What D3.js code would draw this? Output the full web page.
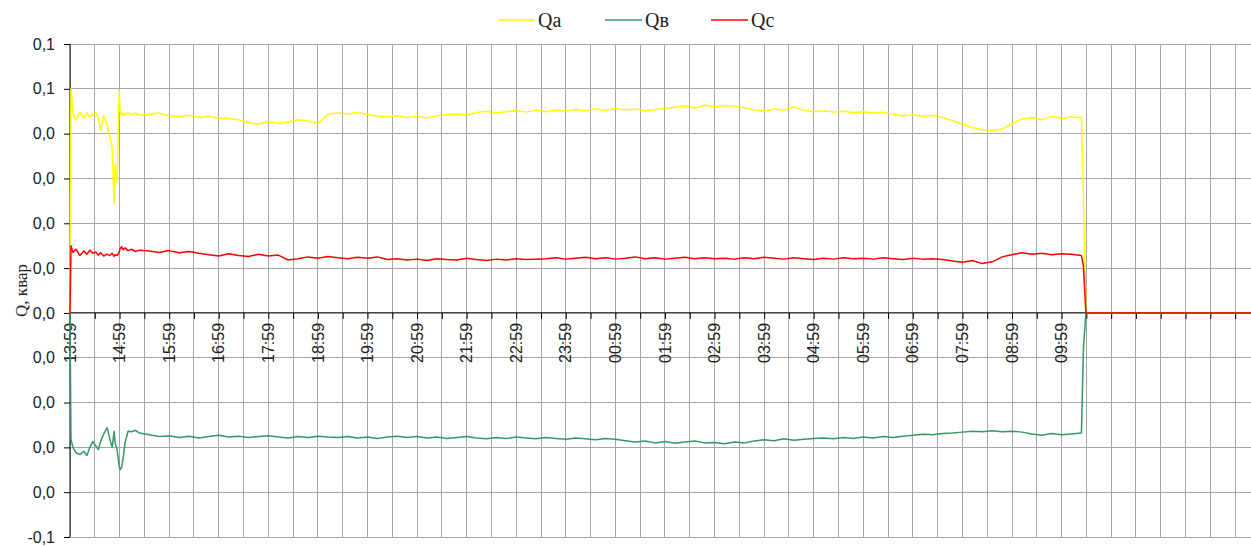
<!DOCTYPE html>
<html>
<head>
<meta charset="utf-8">
<script src="https://cdn.jsdelivr.net/npm/d3@7"></script>
<style>
  body { margin: 0; background: #fff; }
  svg { display: block; }
</style>
</head>
<body>
<div id="chart"></div>
<script>
// hours since 13:59
const timeH = [
  0, 0.02, 0.06, 0.12, 0.2, 0.28, 0.34, 0.4, 0.46, 0.52, 0.57, 0.62, 0.68, 0.75, 0.8, 0.85, 0.89, 0.91, 0.95, 0.99,
  1.01, 1.04, 1.07, 1.11, 1.17, 1.24, 1.32, 1.4,
  1.6, 1.8, 2.0, 2.2, 2.4, 2.6, 2.8, 3.0, 3.2, 3.4, 3.6, 3.8, 4.0, 4.2, 4.4, 4.6, 4.8, 5.0, 5.2, 5.4, 5.6, 5.8,
  6.0, 6.2, 6.4, 6.6, 6.8, 7.0, 7.2, 7.4, 7.6, 7.8, 8.0, 8.2, 8.4, 8.6, 8.8, 9.0, 9.2, 9.4, 9.6, 9.8,
  10.0, 10.2, 10.4, 10.6, 10.8, 11.0, 11.2, 11.4, 11.6, 11.8, 12.0, 12.2, 12.4, 12.6, 12.8, 13.0, 13.2, 13.4, 13.6, 13.8,
  14.0, 14.2, 14.4, 14.6, 14.8, 15.0, 15.2, 15.4, 15.6, 15.8, 16.0, 16.2, 16.4, 16.6, 16.8, 17.0, 17.2, 17.4, 17.6, 17.8,
  18.0, 18.2, 18.4, 18.6, 18.8, 19.0, 19.2, 19.4, 19.6, 19.8, 20.0, 20.2, 20.4,
  20.44, 20.49, 20.52, 23.85
];

const qa = [
  0, 0.0500, 0.0446, 0.0430, 0.0448, 0.0434, 0.0446, 0.0437, 0.0443, 0.0447, 0.0436, 0.0407, 0.0440, 0.0418, 0.0395, 0.0370, 0.0244, 0.0330, 0.0290, 0.0496,
  0.0452, 0.0441, 0.0446, 0.0440, 0.0447, 0.0443, 0.0446, 0.0441,
  0.0443, 0.0446, 0.0440, 0.0438, 0.0441, 0.0436, 0.0439, 0.0435, 0.0434, 0.0431, 0.0425, 0.0421, 0.0427, 0.0423, 0.0426,
  0.0431, 0.0428, 0.0422, 0.0443, 0.0446, 0.0444, 0.0447, 0.0443, 0.0439, 0.0437, 0.0440, 0.0436, 0.0438, 0.0435, 0.0440,
  0.0442, 0.0444, 0.0441, 0.0447, 0.0450, 0.0446, 0.0449, 0.0451, 0.0448, 0.0452, 0.0449, 0.0453, 0.0450,
  0.0454, 0.0451, 0.0455, 0.0452, 0.0456, 0.0453, 0.0455, 0.0451, 0.0454, 0.0456,
  0.0459, 0.0462, 0.0457, 0.0464, 0.0460, 0.0463, 0.0461, 0.0458, 0.0453, 0.0450, 0.0455, 0.0452, 0.0460,
  0.0452, 0.0449, 0.0451, 0.0448, 0.0450, 0.0447, 0.0449, 0.0446, 0.0448, 0.0443, 0.0440, 0.0442, 0.0439, 0.0441,
  0.0436, 0.0429, 0.0421, 0.0413, 0.0409, 0.0407, 0.0410, 0.0422, 0.0433, 0.0436, 0.0431, 0.0438, 0.0434, 0.0437, 0.0436,
  0.0262, 0, 0, 0
];

const qb = [
  0, -0.0282, -0.0300, -0.0312, -0.0316, -0.0309, -0.0318, -0.0300, -0.0287, -0.0296, -0.0305, -0.0286, -0.0270, -0.0256, -0.0280, -0.0300, -0.0264, -0.0290, -0.0305, -0.0340,
  -0.0350, -0.0345, -0.0325, -0.0290, -0.0264, -0.0265, -0.0262, -0.0268,
  -0.0272, -0.0276, -0.0274, -0.0278, -0.0275, -0.0279, -0.0276, -0.0273, -0.0277, -0.0275,
  -0.0278, -0.0276, -0.0274, -0.0277, -0.0279, -0.0276, -0.0278, -0.0275, -0.0277,
  -0.0278, -0.0276, -0.0279, -0.0277, -0.0280, -0.0277, -0.0275, -0.0278, -0.0276, -0.0279,
  -0.0277, -0.0280, -0.0278, -0.0276, -0.0279, -0.0281, -0.0278, -0.0280, -0.0277, -0.0279,
  -0.0281, -0.0278, -0.0280, -0.0282, -0.0279, -0.0281, -0.0283, -0.0280, -0.0282,
  -0.0285, -0.0288, -0.0286, -0.0290, -0.0287, -0.0291, -0.0288, -0.0286, -0.0290, -0.0289, -0.0292, -0.0288, -0.0290,
  -0.0286, -0.0283, -0.0285, -0.0281, -0.0284, -0.0282, -0.0280,
  -0.0279, -0.0281, -0.0278, -0.0280, -0.0277, -0.0279, -0.0276, -0.0278, -0.0275,
  -0.0273, -0.0271, -0.0272, -0.0269, -0.0268,
  -0.0266, -0.0264, -0.0265, -0.0263, -0.0265, -0.0264, -0.0266,
  -0.0270, -0.0273, -0.0269, -0.0272, -0.0270, -0.0268,
  -0.0080, 0, 0, 0
];

const qc = [
  0, 0.0150, 0.0135, 0.0142, 0.0128, 0.0138, 0.0131, 0.0140, 0.0133, 0.0136, 0.0129, 0.0134, 0.0127, 0.0131, 0.0128, 0.0133, 0.0126, 0.0130, 0.0128, 0.0135,
  0.0143, 0.0148, 0.0141, 0.0145, 0.0139, 0.0142, 0.0137, 0.0140,
  0.0138, 0.0135, 0.0139, 0.0134, 0.0137, 0.0133,
  0.0130, 0.0127, 0.0132, 0.0128, 0.0126, 0.0131, 0.0127, 0.0129,
  0.0118, 0.0121,
  0.0125, 0.0122, 0.0126, 0.0123, 0.0121, 0.0124, 0.0122, 0.0125,
  0.0119, 0.0121, 0.0118, 0.0120, 0.0117, 0.0121, 0.0119, 0.0118, 0.0122, 0.0119, 0.0117, 0.0120, 0.0118, 0.0121, 0.0119, 0.0120,
  0.0121, 0.0123, 0.0120, 0.0122, 0.0124, 0.0121, 0.0123, 0.0120, 0.0122, 0.0125,
  0.0121, 0.0123, 0.0120, 0.0122, 0.0124, 0.0121, 0.0123, 0.0121, 0.0122, 0.0120,
  0.0123, 0.0121, 0.0124, 0.0122, 0.0120, 0.0123, 0.0121, 0.0119, 0.0122, 0.0120,
  0.0123, 0.0121, 0.0122, 0.0120, 0.0123, 0.0121, 0.0119, 0.0122, 0.0120, 0.0121,
  0.0119,
  0.0116, 0.0113, 0.0117, 0.0110, 0.0114,
  0.0125, 0.0130, 0.0134, 0.0131, 0.0133, 0.0130, 0.0132, 0.0131, 0.0128,
  0.0105, 0, 0, 0
];

const xTickLabels = ["13:59","14:59","15:59","16:59","17:59","18:59","19:59","20:59","21:59","22:59","23:59",
  "00:59","01:59","02:59","03:59","04:59","05:59","06:59","07:59","08:59","09:59"];
const yTicks = [0.06, 0.05, 0.04, 0.03, 0.02, 0.01, 0, -0.01, -0.02, -0.03, -0.04, -0.05];
const yTickLabels = ["0,1","0,1","0,0","0,0","0,0","0,0","0,0","0,0","0,0","0,0","0,0","-0,1"];
const seriesNames = ["Qa", "Qв", "Qc"];
const seriesColors = ["#ffff00", "#339966", "#ff0000"];

const width = 1251, height = 546;
const plotLeft = 70, plotTop = 44, plotBottom = 537;

const svg = d3.select("#chart").append("svg")
  .attr("width", width).attr("height", height);

const x = d3.scaleLinear().domain([0, 23.82]).range([plotLeft, width]);
const y = d3.scaleLinear().domain([-0.05, 0.06]).range([plotBottom, plotTop]);

// grid
const halfHours = d3.range(0, 23.6, 0.5);
svg.append("g").selectAll("line").data(halfHours).join("line")
  .attr("x1", d => x(d)).attr("x2", d => x(d))
  .attr("y1", plotTop).attr("y2", plotBottom)
  .attr("stroke", "#a6a6a6").attr("stroke-width", 1).attr("shape-rendering", "crispEdges");
svg.append("g").selectAll("line").data(yTicks).join("line")
  .attr("x1", plotLeft).attr("x2", width)
  .attr("y1", d => y(d)).attr("y2", d => y(d))
  .attr("stroke", "#a6a6a6").attr("stroke-width", 1).attr("shape-rendering", "crispEdges");

// y axis
const yAxis = svg.append("g").attr("transform", `translate(${plotLeft},0)`)
  .call(d3.axisLeft(y).tickValues(yTicks).tickSize(6).tickPadding(9)
    .tickFormat((d, i) => yTickLabels[i]));
yAxis.select(".domain").attr("stroke", "#000").attr("d", `M0,${plotTop}V${plotBottom}`);
yAxis.selectAll(".tick line").attr("stroke", "#000");
yAxis.selectAll("text").attr("fill", "#222")
  .style("font-family", "Arial, 'Liberation Sans', sans-serif").style("font-size", "16px");

// x axis at zero
const xAxis = svg.append("g").attr("transform", `translate(0,${y(0)})`)
  .call(d3.axisBottom(x).tickValues(halfHours).tickSize(6).tickFormat(""));
xAxis.select(".domain").attr("stroke", "#000").attr("d", `M${plotLeft},0H${width}`);
xAxis.selectAll(".tick line").attr("stroke", "#000");

svg.append("g").selectAll("text").data(xTickLabels).join("text")
  .attr("transform", (d, i) => `translate(${x(i)},${y(0) + 10}) rotate(-90)`)
  .attr("text-anchor", "end").attr("dy", "0.35em")
  .attr("fill", "#222")
  .style("font-family", "Arial, 'Liberation Sans', sans-serif").style("font-size", "16px")
  .text(d => d);

// axis title
svg.append("text")
  .attr("transform", `translate(27,${y(0) + 4}) rotate(-90)`)
  .attr("text-anchor", "start")
  .attr("fill", "#222")
  .style("font-family", "'Times New Roman', 'Liberation Serif', serif").style("font-size", "17px")
  .text("Q, квар");

// lines
const line = d3.line().x(d => x(d[0])).y(d => y(d[1]));
[qa, qb, qc].forEach((vals, k) => {
  svg.append("path")
    .datum(timeH.map((t, i) => [t, vals[i]]))
    .attr("d", line)
    .attr("fill", "none")
    .attr("stroke", seriesColors[k])
    .attr("stroke-width", 1.5)
    .attr("stroke-linejoin", "round");
});

// legend
const legendX = [498, 605, 711];
const lg = svg.append("g").selectAll("g").data(seriesNames).join("g")
  .attr("transform", (d, i) => `translate(${legendX[i]},20)`);
lg.append("line").attr("x1", 0).attr("x2", 37).attr("y1", 0).attr("y2", 0)
  .attr("stroke", (d, i) => seriesColors[i]).attr("stroke-width", 1.5);
lg.append("text").attr("x", 40).attr("y", 7)
  .attr("fill", "#222")
  .style("font-family", "'Times New Roman', 'Liberation Serif', serif").style("font-size", "20px")
  .text(d => d);
</script>
</body>
</html>
